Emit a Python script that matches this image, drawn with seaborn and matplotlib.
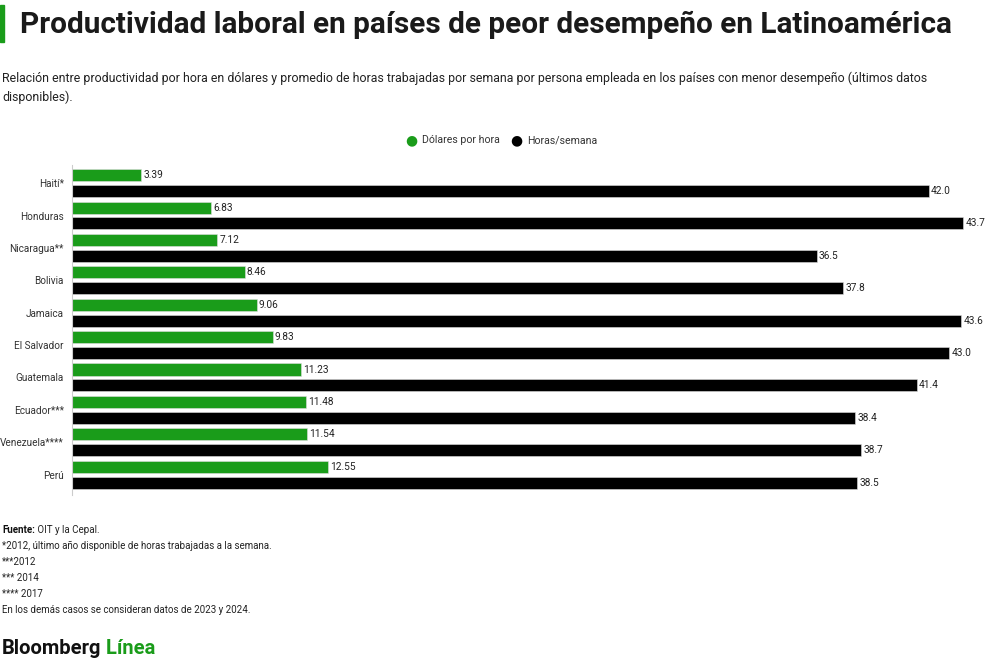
import matplotlib
matplotlib.use('Agg')
import matplotlib.pyplot as plt
import seaborn as sns
import pandas as pd

# Datos
paises = ['Haití*', 'Honduras', 'Nicaragua**', 'Bolivia', 'Jamaica',
          'El Salvador', 'Guatemala', 'Ecuador***', 'Venezuela****', 'Perú']
dolares_hora = [3.39, 6.83, 7.12, 8.46, 9.06, 9.83, 11.23, 11.48, 11.54, 12.55]
horas_semana = [42.0, 43.7, 36.5, 37.8, 43.6, 43.0, 41.4, 38.4, 38.7, 38.5]
series = ['Dólares por hora', 'Horas/semana']

VERDE = '#1a9c1a'
NEGRO = '#000000'

df = pd.DataFrame({
    'pais': paises * 2,
    'valor': dolares_hora + horas_semana,
    'serie': [series[0]] * len(paises) + [series[1]] * len(paises),
})

sns.set_theme(style='white')
plt.rcParams['font.family'] = ['Roboto', 'DejaVu Sans']

fig = plt.figure(figsize=(10, 6.6), dpi=100)
ax = fig.add_axes([0.072, 0.25, 0.918, 0.50])

sns.barplot(data=df, y='pais', x='valor', hue='serie', orient='h',
            palette=[VERDE, NEGRO], order=paises, hue_order=series,
            saturation=1, width=0.98, gap=0.24, edgecolor='#dddddd', linewidth=0.4,
            legend=False, ax=ax)

# Etiquetas de valor
for cont, fmt in zip(ax.containers, ['%.2f', '%.1f']):
    ax.bar_label(cont, fmt=fmt, padding=1.5, fontsize=7.3, color='#222222')

ax.set_xlim(0, 45)
ax.set_ylim(9.63, -0.56)
ax.set_xlabel('')
ax.set_ylabel('')
ax.set_xticks([])
for s in ['top', 'right', 'bottom']:
    ax.spines[s].set_visible(False)
ax.spines['left'].set_color('#cccccc')
ax.spines['left'].set_linewidth(0.8)
ax.tick_params(axis='y', length=0, pad=6, labelsize=7.2, labelcolor='#333333')

# Leyenda
lx, ly = 0.411, 1 - 140 / 660
fig.text(lx, ly, '●', color=VERDE, fontsize=10, ha='center', va='center')
fig.text(lx + 0.011, ly, series[0], fontsize=7.6, color='#333333', va='center')
fig.text(lx + 0.105, ly, '●', color=NEGRO, fontsize=10, ha='center', va='center')
fig.text(lx + 0.116, ly, series[1], fontsize=7.6, color='#333333', va='center')

# Título y subtítulo
fig.patches.append(plt.Rectangle((0, 1 - 42 / 660), 0.004, 37 / 660,
                                 transform=fig.transFigure, color=VERDE))
fig.text(0.02, 1 - 25 / 660, 'Productividad laboral en países de peor desempeño en Latinoamérica',
         fontsize=21.4, fontweight='bold', color='#1a1a1a', va='center')
fig.text(0.002, 1 - 78 / 660,
         'Relación entre productividad por hora en dólares y promedio de horas trabajadas por semana '
         'por persona empleada en los países con menor desempeño (últimos datos',
         fontsize=8.9, color='#222222', va='center')
fig.text(0.002, 1 - 97 / 660, 'disponibles).', fontsize=8.9, color='#222222', va='center')

# Notas
notas = ['*2012, último año disponible de horas trabajadas a la semana.',
         '***2012', '*** 2014', '**** 2017',
         'En los demás casos se consideran datos de 2023 y 2024.']
fuente = fig.text(0.002, 1 - 530 / 660, 'Fuente:', fontsize=7, fontweight='bold',
                  color='#111111', va='center')
ax.annotate(' OIT y la Cepal.', xy=(1, 0.5), xycoords=fuente, va='center',
            fontsize=7, color='#222222', annotation_clip=False)
for i, n in enumerate(notas):
    fig.text(0.002, 1 - (546 + 16 * i) / 660, n, fontsize=7, color='#222222', va='center')

# Logo
logo = fig.text(0.002, 1 - 649 / 660, 'Bloomberg', fontsize=14.5, fontweight='bold',
                color='#111111', va='center')
ax.annotate(' Línea', xy=(1, 0.5), xycoords=logo, va='center', fontsize=14.5,
            fontweight='bold', color=VERDE, annotation_clip=False)

fig.savefig('out.png', dpi=100, facecolor='white')
